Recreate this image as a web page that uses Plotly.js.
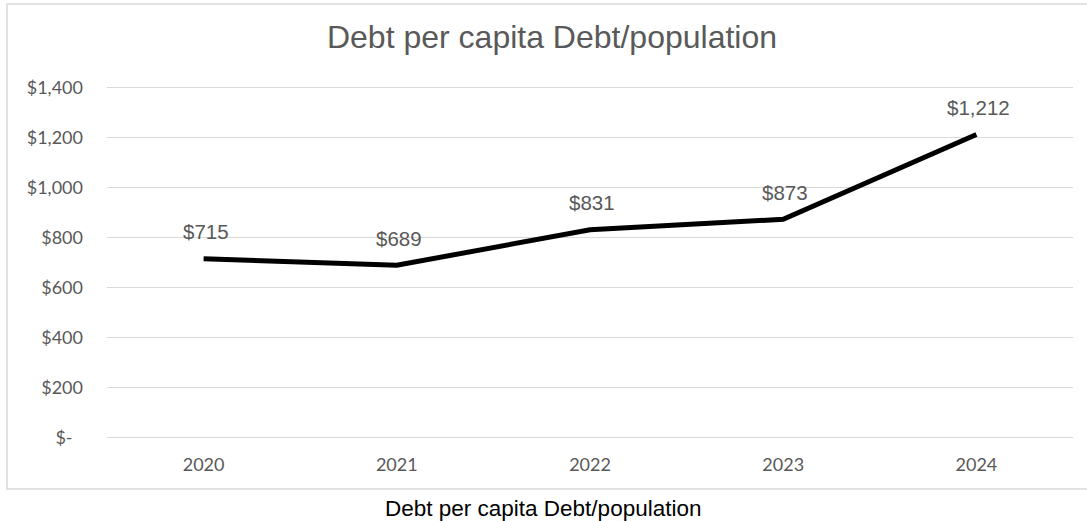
<!DOCTYPE html>
<html>
<head>
<meta charset="utf-8">
<script src="https://cdn.plot.ly/plotly-3.0.1.min.js"></script>
<style>
  html, body { margin: 0; padding: 0; background: #ffffff; }
  #chart { width: 1087px; height: 521px; }
</style>
</head>
<body>
<div id="chart"></div>
<script>
const years = ['2020', '2021', '2022', '2023', '2024'];
const debtPerCapita = [715, 689, 831, 873, 1212];
const dataLabels = ['$715', '$689', '$831', '$873', '$1,212'];
const yTickValues = [0, 200, 400, 600, 800, 1000, 1200, 1400];
const yTickLabels = ['$-\u2007', '$200', '$400', '$600', '$800', '$1,000', '$1,200', '$1,400'];
const chartTitle = 'Debt per capita Debt/population';
const captionText = 'Debt per capita Debt/population';

const W = 1087, H = 521;
const margin = { l: 107, r: 14, t: 85, b: 81 };
const plotW = W - margin.l - margin.r;
const plotH = H - margin.t - margin.b;
const yRange = [-10, 1410];
// pixel -> paper helpers (for frame and caption only)
const px = v => (v - margin.l) / plotW;
const py = v => (H - margin.b - v) / plotH;

const trace = {
  type: 'scatter',
  mode: 'lines',
  x: years,
  y: debtPerCapita,
  line: { color: '#000000', width: 5 },
  hoverinfo: 'skip',
  showlegend: false
};

// category axes take the category index for annotation positions
const labelAnnotations = years.map((yr, i) => ({
  x: years.indexOf(yr), y: debtPerCapita[i], xref: 'x', yref: 'y',
  text: dataLabels[i], showarrow: false,
  yshift: 27, xshift: 2,
  font: { family: 'Liberation Sans, Arial, sans-serif', size: 20.5, color: '#595959' }
}));

const layout = {
  width: W, height: H,
  margin: margin,
  paper_bgcolor: '#ffffff',
  plot_bgcolor: '#ffffff',
  title: {
    text: chartTitle,
    xref: 'container', yref: 'container',
    x: 552 / W, xanchor: 'center',
    y: 1 - 37 / H, yanchor: 'middle',
    font: { family: 'Liberation Sans, Arial, sans-serif', size: 32, color: '#595959' }
  },
  xaxis: {
    type: 'category',
    range: [-0.5, 4.5],
    showgrid: false,
    zeroline: false,
    showline: false,
    ticks: '',
    ticklabelstandoff: 12,
    tickfont: { family: 'Lato, sans-serif', size: 18, color: '#595959' },
    fixedrange: true
  },
  yaxis: {
    range: yRange,
    tickvals: yTickValues,
    ticktext: yTickLabels,
    showgrid: true,
    gridcolor: '#d9d9d9',
    gridwidth: 1.3,
    zeroline: false,
    showline: false,
    ticks: '',
    ticklabelstandoff: 23,
    tickfont: { family: 'Lato, sans-serif', size: 18, color: '#595959' },
    fixedrange: true
  },
  shapes: [{
    type: 'rect', xref: 'paper', yref: 'paper',
    x0: px(7), x1: px(1095), y0: py(489), y1: py(4),
    line: { color: '#d9d9d9', width: 1.5 },
    fillcolor: 'rgba(0,0,0,0)',
    layer: 'below'
  }],
  annotations: labelAnnotations.concat([{
    xref: 'paper', yref: 'paper',
    x: px(543), y: py(508),
    xanchor: 'center', yanchor: 'middle',
    text: captionText, showarrow: false,
    font: { family: 'Liberation Sans, Arial, sans-serif', size: 22.5, color: '#000000' }
  }])
};

Plotly.newPlot('chart', [trace], layout, { displayModeBar: false, staticPlot: true });
</script>
</body>
</html>
